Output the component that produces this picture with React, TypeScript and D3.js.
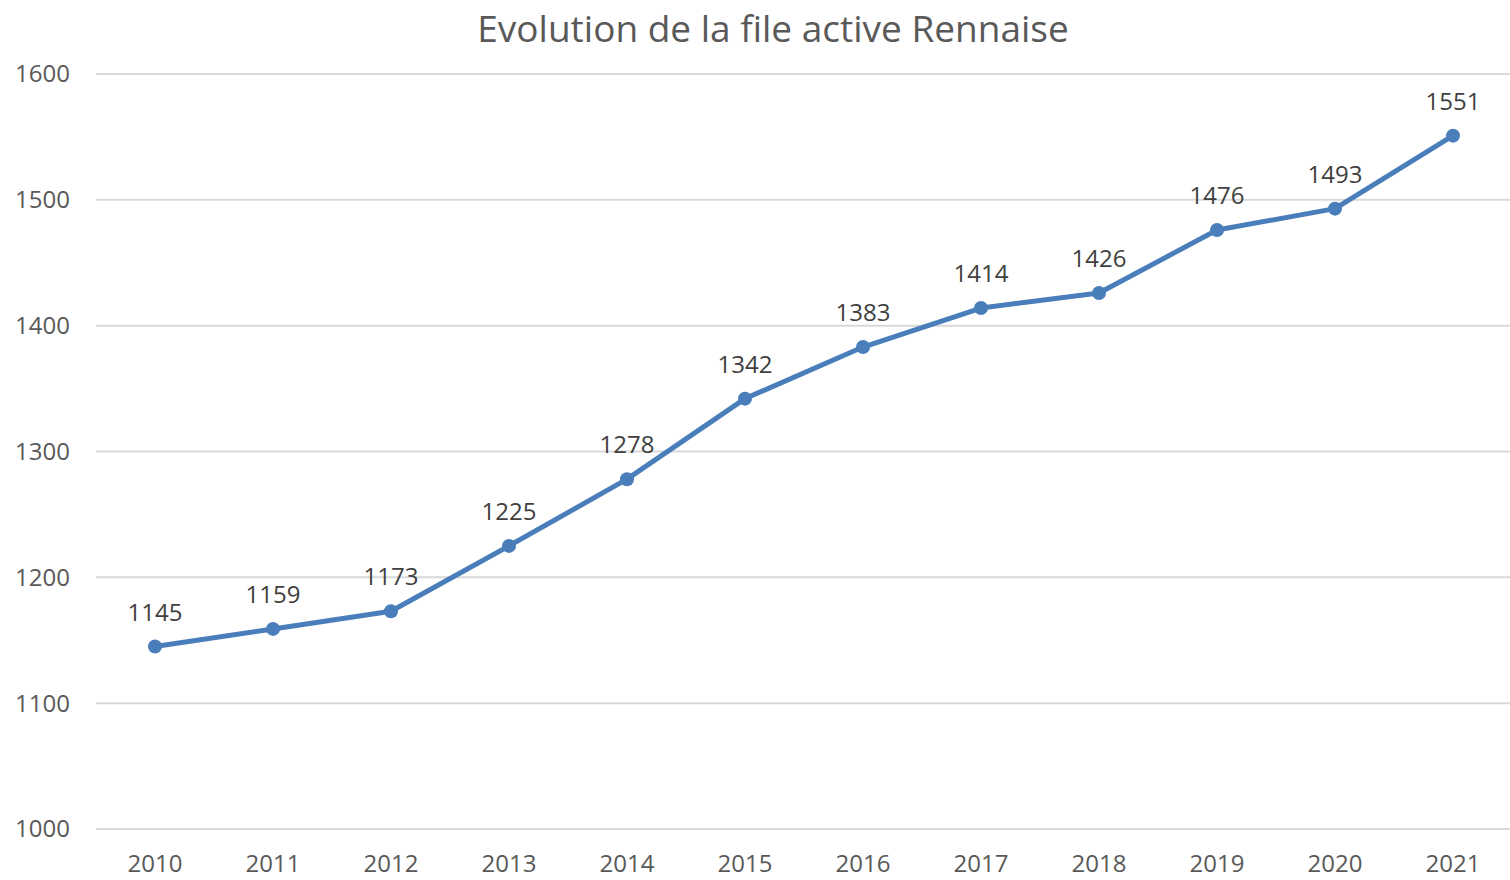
import React from 'react';
import * as d3 from 'd3';

const years = ['2010', '2011', '2012', '2013', '2014', '2015', '2016', '2017', '2018', '2019', '2020', '2021'];
const fileActive = [1145, 1159, 1173, 1225, 1278, 1342, 1383, 1414, 1426, 1476, 1493, 1551];
const yTicks = [1000, 1100, 1200, 1300, 1400, 1500, 1600];

const W = 1510;
const H = 880;
const margin = { top: 74, right: -2, bottom: 51, left: 96 };
const font = '"Open Sans", "Liberation Sans", sans-serif';

const App = () => {
  const x = d3.scaleBand<string>()
    .domain(years)
    .range([margin.left, W - margin.right]);

  const y = d3.scaleLinear()
    .domain([1000, 1600])
    .range([H - margin.bottom, margin.top]);

  const cx = (d: string) => (x(d) ?? 0) + x.bandwidth() / 2;

  const line = d3.line<number>()
    .x((_, i) => cx(years[i]))
    .y(d => y(d));

  return (
    <svg width={W} height={H} style={{ position: 'absolute', left: 0, top: 0, background: '#fff' }}>
      <text x={773} y={42} textAnchor="middle" fontFamily={font} fontSize={37} fill="#595959">
        Evolution de la file active Rennaise
      </text>

      {/* grille */}
      {yTicks.map(t => (
        <g key={t}>
          <line x1={margin.left} x2={W} y1={y(t)} y2={y(t)} stroke="#d9d9d9" strokeWidth={2} />
          <text x={70} y={y(t)} dy="0.35em" textAnchor="end" fontFamily={font} fontSize={24} fill="#595959">
            {t}
          </text>
        </g>
      ))}

      {years.map(yr => (
        <text key={yr} x={cx(yr)} y={872} textAnchor="middle" fontFamily={font} fontSize={24} fill="#595959">
          {yr}
        </text>
      ))}

      <path d={line(fileActive) ?? ''} fill="none" stroke="#4a7ebb" strokeWidth={5} strokeLinejoin="round" />

      {fileActive.map((v, i) => (
        <g key={years[i]}>
          <circle cx={cx(years[i])} cy={y(v)} r={7} fill="#4a7ebb" />
          <text x={cx(years[i])} y={y(v) - 26} textAnchor="middle" fontFamily={font} fontSize={24} fill="#404040">
            {v}
          </text>
        </g>
      ))}
    </svg>
  );
};

export default App;
